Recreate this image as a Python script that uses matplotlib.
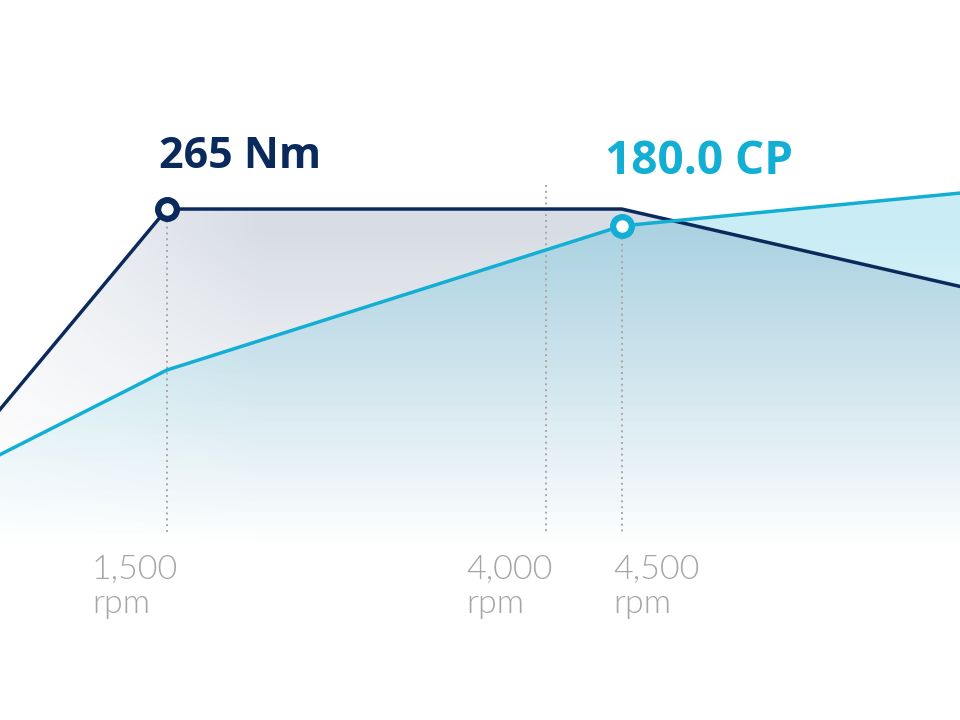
import numpy as np
import matplotlib
matplotlib.use("Agg")
import matplotlib.pyplot as plt
import matplotlib.transforms as mtransforms

# ---- data ----
torque_rpm = [250, 1500, 4500, 7000]
torque_nm = [147, 265, 265, 220]
power_rpm = [250, 1500, 4500, 7000]
power_cp = [92.5, 127.5, 180.0, 193.4]
guide_rpm = [1500, 4000, 4500]
tick_labels = ["1,500\nrpm", "4,000\nrpm", "4,500\nrpm"]
torque_label = "265 Nm"
power_label = "180.0 CP"
peak_torque_rpm, peak_torque = 1500, 265
peak_power_rpm, peak_power = 4500, 180.0

NAVY = "#0b2a5c"
CYAN = "#12aed4"
GREY = "#a6a6a6"

W, H = 960, 720
fig = plt.figure(figsize=(9.6, 7.2), dpi=100)
ax = fig.add_axes([0, 0, 1, 1])
ax.set_xlim(399, 6731)
T_TOP, P_TOP = 373.4, 262.3
ax.set_ylim(0, T_TOP)
ax.axis("off")

# power scale mapped into torque axis via transform
ptrans = mtransforms.Affine2D().scale(1, T_TOP / P_TOP) + ax.transData

def py(px):  # pixel y from top -> axes fraction
    return 1 - px / H

def gradient(color, amax, y0, y1, gamma=1.0, xfade=None):
    rgb = matplotlib.colors.to_rgb(color)
    ys = np.arange(H)[:, None]
    xs = np.arange(W)[None, :]
    a = np.clip((y1 - ys) / (y1 - y0), 0, 1) ** gamma * np.ones((1, W))
    if xfade is not None:
        a = a * (xfade[0] + (1 - xfade[0]) * np.clip(xs / xfade[1], 0, 1))
    img = np.zeros((H, W, 4))
    img[..., 0], img[..., 1], img[..., 2] = rgb
    img[..., 3] = a * amax
    return img

# torque fill
tfill = ax.fill_between(torque_rpm, torque_nm, 0, color="none", lw=0)
im1 = ax.imshow(gradient(NAVY, 0.16, 230, 550, 1.1, xfade=(0.35, 260)),
                extent=[0, 1, 0, 1], transform=ax.transAxes, aspect="auto",
                zorder=1, interpolation="bilinear")
im1.set_clip_path(tfill.get_paths()[0], transform=ax.transData)

# power fill
pfill = ax.fill_between(power_rpm, power_cp, 0, color="none", lw=0, transform=ptrans)
im2 = ax.imshow(gradient(CYAN, 0.22, 240, 550, 1.0),
                extent=[0, 1, 0, 1], transform=ax.transAxes, aspect="auto",
                zorder=2, interpolation="bilinear")
im2.set_clip_path(pfill.get_paths()[0], transform=ptrans)

# guide lines
guide_tops = [215, 185, 232]
for r, top in zip(guide_rpm, guide_tops):
    ax.plot([r, r], [T_TOP * py(top), T_TOP * py(532)], color="#a8a8a8",
            lw=1.4, ls=(0, (1, 2)), zorder=3)

# lines
ax.plot(torque_rpm, torque_nm, color=NAVY, lw=2.5, zorder=4, solid_joinstyle="round")
ax.plot(power_rpm, power_cp, color=CYAN, lw=2.5, zorder=5, transform=ptrans,
        solid_joinstyle="round")

# markers
ax.plot([peak_torque_rpm], [peak_torque], "o", ms=13.5, mfc="white", mec=NAVY,
        mew=4.5, zorder=6)
ax.plot([peak_power_rpm], [peak_power], "o", ms=13.5, mfc="white", mec=CYAN,
        mew=4.5, zorder=6, transform=ptrans)

# headline labels
head_font = ["Open Sans", "DejaVu Sans"]
fig.text(159 / W, py(156), torque_label, color=NAVY, fontsize=31,
         fontweight="bold", family=head_font, va="center", ha="left")
fig.text(605 / W, py(161), power_label, color=CYAN, fontsize=33,
         fontweight="bold", family=head_font, va="center", ha="left")

# tick labels
tick_font = ["Lato", "Open Sans", "DejaVu Sans"]
label_x = [92, 466, 613]
for lx, t in zip(label_x, tick_labels):
    fig.text(lx / W, py(587), t, color=GREY, fontsize=24.5, family=tick_font,
             fontweight=300, va="center", ha="left", linespacing=1.2)

fig.savefig("out.png", dpi=100, facecolor="white")
